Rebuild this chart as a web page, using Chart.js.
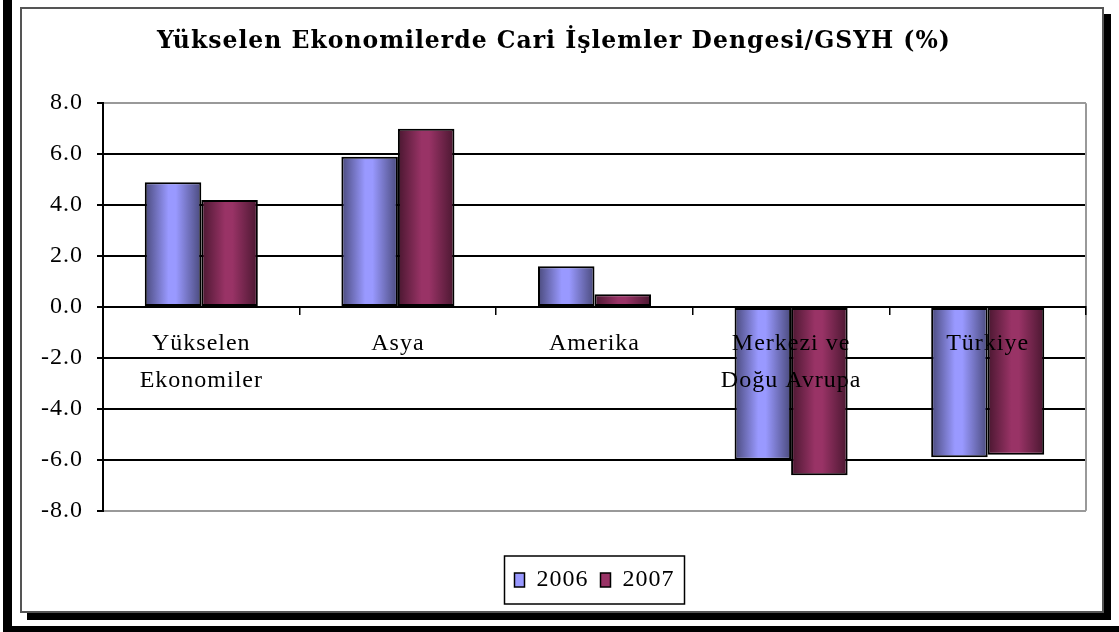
<!DOCTYPE html>
<html>
<head>
<meta charset="utf-8">
<script src="https://cdn.jsdelivr.net/npm/chart.js@4/dist/chart.umd.min.js"></script>
<style>
  html, body { margin: 0; padding: 0; background: #fff; }
  body { width: 1119px; height: 632px; overflow: hidden; position: relative; }
  .bar-left { position: absolute; left: 3px; top: 0; width: 9px; height: 632px; background: #000; }
  .bar-bottom { position: absolute; left: 3px; top: 626px; width: 1116px; height: 6px; background: #000; }
  #box {
    position: absolute; left: 20px; top: 7px;
    width: 1080px; height: 602px;
    border: 2px solid #555;
    box-shadow: 7px 7px 0 #000;
    background: #fff;
  }
  #box canvas { display: block; }
</style>
</head>
<body>
<div class="bar-left"></div>
<div class="bar-bottom"></div>
<div id="box"><canvas id="chart" width="1080" height="602"></canvas></div>
<script>
const titleText = 'Yükselen Ekonomilerde Cari İşlemler Dengesi/GSYH (%)';
const categories = [['Yükselen', 'Ekonomiler'], ['Asya'], ['Amerika'], ['Merkezi ve', 'Doğu Avrupa'], ['Türkiye']];
const seriesNames = ['2006', '2007'];
const values2006 = [4.9, 5.9, 1.6, -6.0, -5.9];
const values2007 = [4.2, 7.0, 0.5, -6.6, -5.8];
const yMin = -8, yMax = 8, yStep = 2;

const CAT_PCT = 0.575;

// horizontal shading like the old office 3d-ish bars
function barFill(light, dark) {
    return (ctx) => {
        const chart = ctx.chart;
        const x = chart.scales.x;
        if (!x || ctx.type !== 'data' || !x.width) return light;
        const catW = x.width / chart.data.labels.length;
        const bw = catW * CAT_PCT / 2;
        const center = x.getPixelForValue(ctx.dataIndex);
        const left = center - bw + ctx.datasetIndex * bw;
        const g = chart.ctx.createLinearGradient(left, 0, left + bw, 0);
        g.addColorStop(0, dark);
        g.addColorStop(0.42, light);
        g.addColorStop(0.55, light);
        g.addColorStop(1, dark);
        return g;
    };
}

const swatchColors = ['#9999ff', '#993366'];

// text in the original is spaced out a bit
const spacing = {
    id: 'spacing',
    beforeUpdate(chart) { chart.ctx.letterSpacing = '1px'; },
    beforeDraw(chart) { chart.ctx.letterSpacing = '1px'; }
};

const frameLines = {
    id: 'frameLines',
    afterDatasetsDraw(chart) {
        const { ctx, chartArea } = chart;
        ctx.save();
        ctx.strokeStyle = '#999';
        ctx.lineWidth = 2;
        ctx.beginPath();
        ctx.moveTo(chartArea.right, chartArea.top);
        ctx.lineTo(chartArea.right, chartArea.bottom);
        ctx.stroke();
        ctx.restore();
    },
    afterDraw(chart) {
        const boxes = chart.legend && chart.legend.legendHitBoxes;
        if (!boxes || !boxes.length) return;
        const left = Math.min(...boxes.map(b => b.left)) - 10;
        const right = Math.max(...boxes.map(b => b.left + b.width)) + 10;
        const top = Math.min(...boxes.map(b => b.top)) - 12;
        const bottom = Math.max(...boxes.map(b => b.top + b.height)) + 12;
        const ctx = chart.ctx;
        ctx.save();
        ctx.strokeStyle = '#000';
        ctx.lineWidth = 1.5;
        ctx.strokeRect(left, top, right - left, bottom - top);
        ctx.restore();
    }
};

new Chart(document.getElementById('chart'), {
    type: 'bar',
    data: {
        labels: categories,
        datasets: [
            {
                label: seriesNames[0],
                data: values2006,
                backgroundColor: barFill('#9999ff', '#4a4a7c'),
                borderColor: '#000',
                borderWidth: 2,
                borderSkipped: false
            },
            {
                label: seriesNames[1],
                data: values2007,
                backgroundColor: barFill('#993366', '#4a1730'),
                borderColor: '#000',
                borderWidth: 2,
                borderSkipped: false
            }
        ]
    },
    options: {
        responsive: false,
        animation: false,
        datasets: {
            bar: { barPercentage: 1, categoryPercentage: CAT_PCT }
        },
        layout: { padding: { left: 0, right: 16, top: 0, bottom: 9 } },
        scales: {
            x: {
                position: { y: 0 },
                offset: true,
                grid: { display: true, drawOnChartArea: false, tickLength: 7, color: '#000', lineWidth: 1.5, z: 1 },
                border: { display: true, color: '#000', width: 2, z: 1 },
                ticks: {
                    z: 1,
                    color: '#000',
                    padding: 11,
                    maxRotation: 0,
                    autoSkip: false,
                    font: { family: 'Liberation Serif', size: 24, lineHeight: 1.55 }
                }
            },
            y: {
                min: yMin,
                max: yMax,
                afterFit(scale) { scale.width = 81; },
                grid: {
                    color: (c) => (c.tick && (c.tick.value === yMax || c.tick.value === yMin)) ? '#999' : '#000',
                    tickColor: '#000',
                    lineWidth: 2,
                    tickLength: 6
                },
                border: { display: true, color: '#000', width: 2 },
                ticks: {
                    stepSize: yStep,
                    color: '#000',
                    padding: 14,
                    font: { family: 'Liberation Serif', size: 24 },
                    callback: (v) => v.toFixed(1)
                }
            }
        },
        plugins: {
            title: {
                display: true,
                text: titleText,
                color: '#000',
                font: { family: 'DejaVu Serif', size: 23.5, weight: 'bold' },
                padding: { top: 19, bottom: 47 }
            },
            legend: {
                position: 'bottom',
                fullSize: false,
                title: { display: true, text: '', padding: { top: 44, bottom: 0 }, font: { size: 1 } },
                labels: {
                    color: '#000',
                    boxWidth: 10,
                    boxHeight: 14,
                    padding: 12,
                    font: { family: 'Liberation Serif', size: 24 },
                    generateLabels: (chart) => chart.data.datasets.map((d, i) => ({
                        text: d.label,
                        fillStyle: swatchColors[i],
                        strokeStyle: '#000',
                        fontColor: '#000',
                        lineWidth: 1.5,
                        hidden: false,
                        datasetIndex: i
                    }))
                }
            },
            tooltip: { enabled: false }
        }
    },
    plugins: [spacing, frameLines]
});
</script>
</body>
</html>
